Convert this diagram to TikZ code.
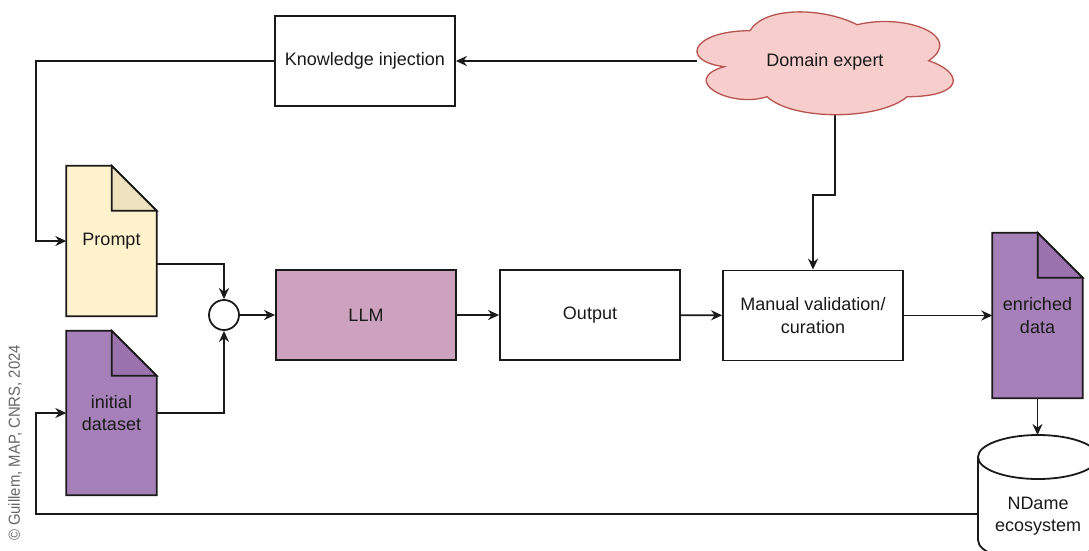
\documentclass[tikz,border=0pt]{standalone}
\usepackage{fontspec}
\setmainfont{Liberation Sans}
\usetikzlibrary{arrows.meta,backgrounds,calc}
\definecolor{promptfill}{HTML}{FFF2CC}
\definecolor{promptfold}{HTML}{EDE1BE}
\definecolor{datafill}{HTML}{A680B8}
\definecolor{datafold}{HTML}{9A72AE}
\definecolor{llmfill}{HTML}{CDA2BE}
\definecolor{cloudfill}{HTML}{F8CECC}
\definecolor{clouddraw}{HTML}{B85450}
\definecolor{txt}{HTML}{1A1A1A}
\definecolor{copy}{HTML}{666666}
\newcommand\mydoc[3]{%
  \filldraw[fill=#2, ln, line join=miter] (#1.north west) -- ($(#1.north east)+(-45,0)$) -- ($(#1.north east)+(0,45)$) -- (#1.south east) -- (#1.south west) -- cycle;
  \filldraw[fill=#3, ln] ($(#1.north east)+(-45,0)$) -- ($(#1.north east)+(-45,45)$) -- ($(#1.north east)+(0,45)$) -- cycle;
}
\begin{document}
\begin{tikzpicture}[x=1pt,y=-1pt,
  ln/.style={line width=1.8pt, draw=txt},
  box/.style={draw, ln, minimum width=180pt, minimum height=90pt, align=center, inner sep=0pt, text=txt},
  doc/.style={minimum width=90pt, align=center, inner sep=0pt, text=txt},
  arr/.style={ln, -{Stealth[length=11pt,width=10pt]}},
  every node/.style={font=\fontsize{18}{22.5}\selectfont}]
\useasboundingbox (0,0) rectangle (1089,550);

% nodes
\node[box] (ki) at (365,61) {Knowledge injection};
\node[box, fill=llmfill] (llm) at (366,315) {LLM};
\node[box] (out) at (590,315) {Output};
\node[box] (mv) at (813,315.5) {Manual validation/\\curation};
\node[doc, minimum height=150pt] (prompt) at (111.5,241) {Prompt};
\node[doc, minimum height=164pt] (ds) at (111.5,413) {initial\\dataset};
\node[doc, minimum height=165pt] (enr) at (1037.5,315.5) {enriched\\data};
\node[circle, draw, ln, minimum size=30pt, inner sep=0pt] (circ) at (224,315) {};
\node[minimum width=256pt, minimum height=103pt, inner sep=0pt, text=txt] (cloud) at (825,62) {Domain expert};
\node[align=center, text=txt] (cyl) at (1038,516) {NDame\\ecosystem};
\coordinate (cyltop) at (1038,435);
\coordinate (cylleft) at (978,514);

\begin{pgfonlayer}{background}
  \fill[white] (0,0) rectangle (1089,550);
  \mydoc{prompt}{promptfill}{promptfold}
  \mydoc{ds}{datafill}{datafold}
  \mydoc{enr}{datafill}{datafold}
  % cylinder
  \draw[ln] (978,457) -- (978,540) arc[start angle=180, end angle=360, x radius=60pt, y radius=22pt] -- (1098,457);
  \draw[ln] (1038,457) ellipse[x radius=60pt, y radius=22pt];
  % connectors from the expert
  \draw[arr] ($(cloud.south)+(10,-10)$) -- ($(cloud.south)+(10,81.5)$) -| (mv.north);
  \draw[arr] (cloud.west |- ki.east) -- (ki.east);
  % cloud outline
  \begin{scope}[xshift=678.4pt, yshift=-0.7pt, x=286pt, y=-120pt]
    \filldraw[fill=cloudfill, draw=clouddraw, line width=1.3pt]
      (0.25,0.25) .. controls (0.05,0.25) and (0,0.5) .. (0.16,0.55)
      .. controls (0,0.66) and (0.18,0.9) .. (0.31,0.8)
      .. controls (0.4,1) and (0.7,1) .. (0.8,0.8)
      .. controls (1,0.8) and (1,0.6) .. (0.875,0.5)
      .. controls (1,0.3) and (0.8,0.1) .. (0.625,0.2)
      .. controls (0.5,0.05) and (0.3,0.05) .. (0.25,0.25) -- cycle;
  \end{scope}
\end{pgfonlayer}

% connectors
\draw[arr] (ki.west) -| ($(prompt.west)+(-30,0)$) -- (prompt.west);
\draw[arr] ($(prompt.east)+(0,23)$) -| (circ.north);
\draw[arr] (ds.east) -| (circ.south);
\draw[arr] (circ) -- (llm);
\draw[arr] (llm) -- (out);
\draw[arr] (out) -- (mv);
\draw[arr] (mv) -- (enr);
\draw[arr] (enr.south) -- (enr.south |- cyltop);
\draw[arr] (cylleft) -| ($(ds.west)+(-30,0)$) -- (ds.west);

% copyright
\node[rotate=90, text=copy, inner sep=0pt] (copyr) at (15,443) {\scalebox{0.93}[1]{\fontsize{16}{18}\selectfont © Guillem, MAP, CNRS, 2024}};
\end{tikzpicture}
\end{document}
